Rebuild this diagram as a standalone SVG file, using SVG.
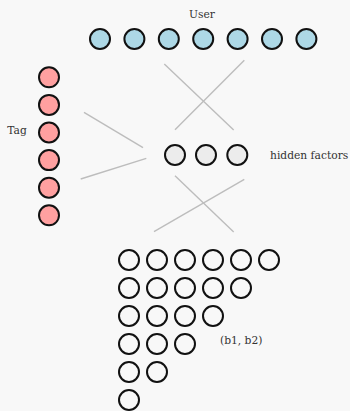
<svg xmlns="http://www.w3.org/2000/svg" width="350" height="411" viewBox="0 0 350 411">
  <style>
    .bg { fill: #f8f8f8; }
    .unit { stroke: #111; stroke-width: 2; }
    .user { fill: #add8e6; }
    .tag { fill: #ffa0a0; }
    .hidden { fill: #ececec; }
    .bias { fill: none; }
    .edge { stroke: #bdbdbd; stroke-width: 1.4; fill: none; }
    .label { font-family: "DejaVu Serif", "Liberation Serif", serif; font-size: 10.7px; fill: #333; }
  </style>
  <rect class="bg" x="0" y="0" width="350" height="411"/>

  <g id="connectors">
    <line class="edge" x1="164.3" y1="64" x2="233.7" y2="130"/>
    <line class="edge" x1="244.3" y1="60.3" x2="175" y2="129.7"/>
    <line class="edge" x1="84" y1="112.3" x2="143" y2="147.7"/>
    <line class="edge" x1="80.7" y1="179" x2="146.3" y2="158.3"/>
    <line class="edge" x1="175" y1="175.7" x2="233.7" y2="232"/>
    <line class="edge" x1="244.3" y1="179.3" x2="154" y2="231.7"/>
  </g>

  <g id="user">
    <text class="label" x="202" y="18" text-anchor="middle">User</text>
    <circle class="unit user" cx="100" cy="39" r="10"/>
    <circle class="unit user" cx="134.4" cy="39" r="10"/>
    <circle class="unit user" cx="168.8" cy="39" r="10"/>
    <circle class="unit user" cx="203.2" cy="39" r="10"/>
    <circle class="unit user" cx="237.6" cy="39" r="10"/>
    <circle class="unit user" cx="272" cy="39" r="10"/>
    <circle class="unit user" cx="306.4" cy="39" r="10"/>
  </g>

  <g id="tag">
    <text class="label" x="17" y="134" text-anchor="middle">Tag</text>
    <circle class="unit tag" cx="49" cy="77.3" r="10"/>
    <circle class="unit tag" cx="49" cy="104.9" r="10"/>
    <circle class="unit tag" cx="49" cy="132.5" r="10"/>
    <circle class="unit tag" cx="49" cy="160.1" r="10"/>
    <circle class="unit tag" cx="49" cy="187.7" r="10"/>
    <circle class="unit tag" cx="49" cy="215.3" r="10"/>
  </g>

  <g id="hidden-factors">
    <circle class="unit hidden" cx="175" cy="155" r="10"/>
    <circle class="unit hidden" cx="206" cy="155" r="10"/>
    <circle class="unit hidden" cx="237.3" cy="155" r="10"/>
    <text class="label" x="270" y="159">hidden factors</text>
  </g>

  <g id="biases">
    <circle class="unit bias" cx="129" cy="260" r="10"/>
    <circle class="unit bias" cx="157" cy="260" r="10"/>
    <circle class="unit bias" cx="185" cy="260" r="10"/>
    <circle class="unit bias" cx="213" cy="260" r="10"/>
    <circle class="unit bias" cx="241" cy="260" r="10"/>
    <circle class="unit bias" cx="269" cy="260" r="10"/>

    <circle class="unit bias" cx="129" cy="288" r="10"/>
    <circle class="unit bias" cx="157" cy="288" r="10"/>
    <circle class="unit bias" cx="185" cy="288" r="10"/>
    <circle class="unit bias" cx="213" cy="288" r="10"/>
    <circle class="unit bias" cx="241" cy="288" r="10"/>

    <circle class="unit bias" cx="129" cy="316" r="10"/>
    <circle class="unit bias" cx="157" cy="316" r="10"/>
    <circle class="unit bias" cx="185" cy="316" r="10"/>
    <circle class="unit bias" cx="213" cy="316" r="10"/>

    <circle class="unit bias" cx="129" cy="344" r="10"/>
    <circle class="unit bias" cx="157" cy="344" r="10"/>
    <circle class="unit bias" cx="185" cy="344" r="10"/>

    <circle class="unit bias" cx="129" cy="372" r="10"/>
    <circle class="unit bias" cx="157" cy="372" r="10"/>

    <circle class="unit bias" cx="129" cy="400" r="10"/>

    <text class="label" x="220" y="344">(b1, b2)</text>
  </g>
</svg>
